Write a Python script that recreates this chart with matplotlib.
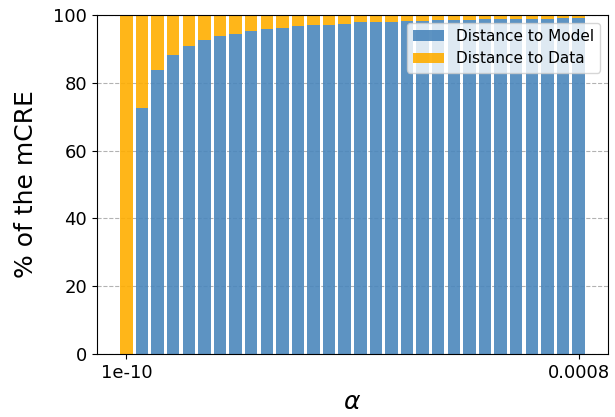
import matplotlib
matplotlib.use("Agg")
import matplotlib.pyplot as plt
import numpy as np

# share (%) of the mCRE attributed to each term, per alpha value
alpha_labels = ["1e-10", "0.0008"]
model_share = [0.0, 72.5, 83.7, 88.3, 90.8, 92.5, 93.9, 94.5, 95.2, 95.9,
               96.1, 96.7, 97.0, 97.1, 97.4, 97.8, 97.8, 98.0, 98.1, 98.3,
               98.4, 98.5, 98.6, 98.8, 98.9, 98.9, 98.9, 98.9, 99.0, 99.0]
data_share = [100.0 - v for v in model_share]

x = np.arange(len(model_share))

fig = plt.figure(figsize=(6.15, 4.17), dpi=100)
ax = fig.add_axes([0.1577, 0.151, 0.9886 - 0.1577, 0.964 - 0.151])

ax.grid(axis="y", linestyle="--", color="gray", alpha=0.6, zorder=0)
ax.bar(x, model_share, width=0.8, color="#4b87bc", alpha=0.9,
       label="Distance to Model", zorder=2)
ax.bar(x, data_share, width=0.8, bottom=model_share, color="#ffae00",
       alpha=0.9, label="Distance to Data", zorder=2)

ax.set_ylim(0, 100)
ax.set_xticks([x[0], x[-1]])
ax.set_xticklabels(alpha_labels)
ax.tick_params(axis="both", labelsize=13)
ax.set_xlabel(r"$\alpha$", fontsize=18, labelpad=6)
ax.set_ylabel("% of the mCRE", fontsize=18, labelpad=11)
ax.legend(loc="upper right", fontsize=11)

fig.savefig("out.png", dpi=100)
